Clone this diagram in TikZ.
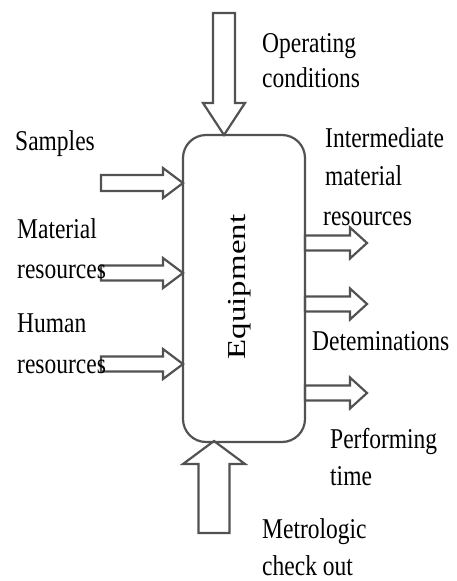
\documentclass[tikz,border=0pt]{standalone}
\usepackage{fontspec}
\setmainfont{Liberation Serif}
\begin{document}
\begin{tikzpicture}[x=1pt,y=-1pt,
  outline/.style={draw=black!68, line width=2.2pt, line join=miter},
  lbl/.style={anchor=base west, inner sep=0pt, yscale=1.22,
    font=\fontsize{23.5}{30}\selectfont}]
\useasboundingbox (0,0) rectangle (457,581);

% block arrow: tip, rotation, length, shaft half-width, head half-width, head length
\newcommand\blockarrow[6]{%
  \draw[outline, shift={#1}, rotate=#2]
    (0,0) -- (-#6,#5) -- (-#6,#4) -- (-#3,#4) -- (-#3,-#4)
    -- (-#6,-#4) -- (-#6,-#5) -- cycle;}

% central block
\node[outline, rounded corners=23pt, minimum width=122pt, minimum height=307pt,
  inner sep=0pt] (eq) at (244,288.5) {};
\node[rotate=90, inner sep=0pt, font=\fontsize{23.5}{30}\selectfont] (eqname) at (240,287)
  {\scalebox{1.4}[1.1]{Equipment}};

% tips on the block
\coordinate (tTop) at (224,135);
\coordinate (tBot) at (214,441);
\coordinate (tS) at (183,183);
\coordinate (tM) at (183,273);
\coordinate (tH) at (183,364);
\coordinate (tR1) at (367,243);
\coordinate (tR2) at (367,304);
\coordinate (tR3) at (367,393);

% inputs
\blockarrow{(tTop)}{-90}{122}{11}{21}{32}
\blockarrow{(tBot)}{90}{92}{15.5}{31}{23}
\blockarrow{(tS)}{0}{82}{8}{15}{20}
\blockarrow{(tM)}{0}{82}{7.5}{15}{20}
\blockarrow{(tH)}{0}{82}{7.5}{15}{20}
% outputs
\blockarrow{(tR1)}{0}{62}{7.5}{15.5}{17}
\blockarrow{(tR2)}{0}{62}{7.5}{15.5}{17}
\blockarrow{(tR3)}{0}{62}{7.5}{15.5}{17}

% labels
\node[lbl] (op1) at (262,52) {Operating};
\node[lbl] (op2) at (262,87) {conditions};
\node[lbl] (sa) at (15,150) {Samples};
\node[lbl] (ma1) at (17,238) {Material};
\node[lbl] (ma2) at (17,278) {resources};
\node[lbl] (hu1) at (17,332) {Human};
\node[lbl] (hu2) at (17,373) {resources};
\node[lbl] (im1) at (325,147) {Intermediate};
\node[lbl] (im2) at (325,185) {material};
\node[lbl] (im3) at (323,225) {resources};
\node[lbl] (de) at (312,350) {Deteminations};
\node[lbl] (pe1) at (330,448) {Performing};
\node[lbl] (pe2) at (330,485) {time};
\node[lbl] (me1) at (262,538) {Metrologic};
\node[lbl] (me2) at (262,575) {check out};
\end{tikzpicture}
\end{document}
